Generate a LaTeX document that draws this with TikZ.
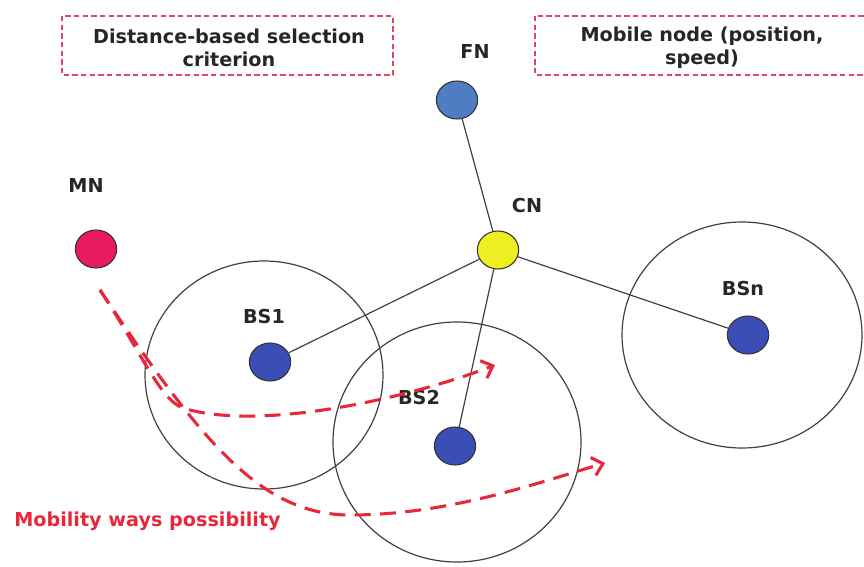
\documentclass[tikz,border=0pt]{standalone}
\usepackage{fontspec}
\setmainfont{DejaVu Sans}
\usepackage{tikz}
\usetikzlibrary{calc}
\usetikzlibrary{arrows.meta}
\usetikzlibrary{shapes.geometric}
\definecolor{fncol}{HTML}{4F7CC3}
\definecolor{bscol}{HTML}{3A4EB5}
\definecolor{cncol}{HTML}{EEEE22}
\definecolor{mncol}{HTML}{E8195E}
\definecolor{waycol}{HTML}{E8283A}
\definecolor{boxcol}{HTML}{E04660}
\tikzset{
  station/.style={ellipse, draw=black!80, line width=0.8pt, minimum width=31pt, minimum height=28.5pt, inner sep=0pt},
  tag/.style={font=\bfseries\fontsize{14.4}{17}\selectfont, text=black!85, inner sep=0pt},
  notebox/.style={draw=boxcol, line width=1pt, dash pattern=on 4pt off 2.5pt},
  cell/.style={draw=black!75, line width=0.9pt},
  link/.style={draw=black!75, line width=0.9pt},
  way/.style={draw=waycol, line width=2.3pt, dash pattern=on 12pt off 7pt, -{Straight Barb[length=7.5pt,width=14pt,line width=2.3pt]}}
}

\begin{document}
\begin{tikzpicture}[x=0.75pt, y=-0.75pt]
\useasboundingbox (0,0) rectangle (864,567);

% note boxes
\draw [notebox] (62,16) rectangle (393,75);
\draw [notebox] (535,16) rectangle (870,75);
\node [tag, align=center] (crit) at (229,48) {Distance-based selection\\criterion};
\node [tag, align=center] (mob) at (702,48) {Mobile node (position,\\speed)};

% coverage cells
\draw [cell] (264,375) ellipse [x radius=119, y radius=114];
\draw [cell] (457,442) ellipse [x radius=124, y radius=120];
\draw [cell] (742,335) ellipse [x radius=120, y radius=113];

% stations
\node [station, fill=fncol] (FN) at (457,100) {};
\node [station, fill=cncol] (CN) at (498,250) {};
\node [station, fill=mncol] (MN) at (96,249) {};
\node [station, fill=bscol] (BS1) at (270,362) {};
\node [station, fill=bscol] (BS2) at (455,446) {};
\node [station, fill=bscol] (BSn) at (748,335) {};

\node [tag] (FNl) at (475,52) {FN};
\node [tag] (CNl) at (527,206) {CN};
\node [tag] (MNl) at (86,186) {MN};
\node [tag] (BS1l) at (264,317) {BS1};
\node [tag] (BS2l) at (419,398) {BS2};
\node [tag] (BSnl) at (743,289) {BSn};

\foreach \s in {FN,BS1,BS2,BSn} {\draw [link] (CN) -- (\s);}

% mobility ways
\coordinate (wstart) at (100,290);
\coordinate (wend1) at (495,365);
\coordinate (wend2) at (605,463);
\draw [way] (wstart) .. controls (140,350) and (160,400) .. (183,408) .. controls (260,432) and (410,398) .. (wend1);
\draw [way] (wstart) .. controls (200,440) and (260,515) .. (350,515) .. controls (450,515) and (540,482) .. (wend2);
\node [tag, text=waycol, anchor=west] (ways) at (14,521) {Mobility ways possibility};

\end{tikzpicture}
\end{document}
